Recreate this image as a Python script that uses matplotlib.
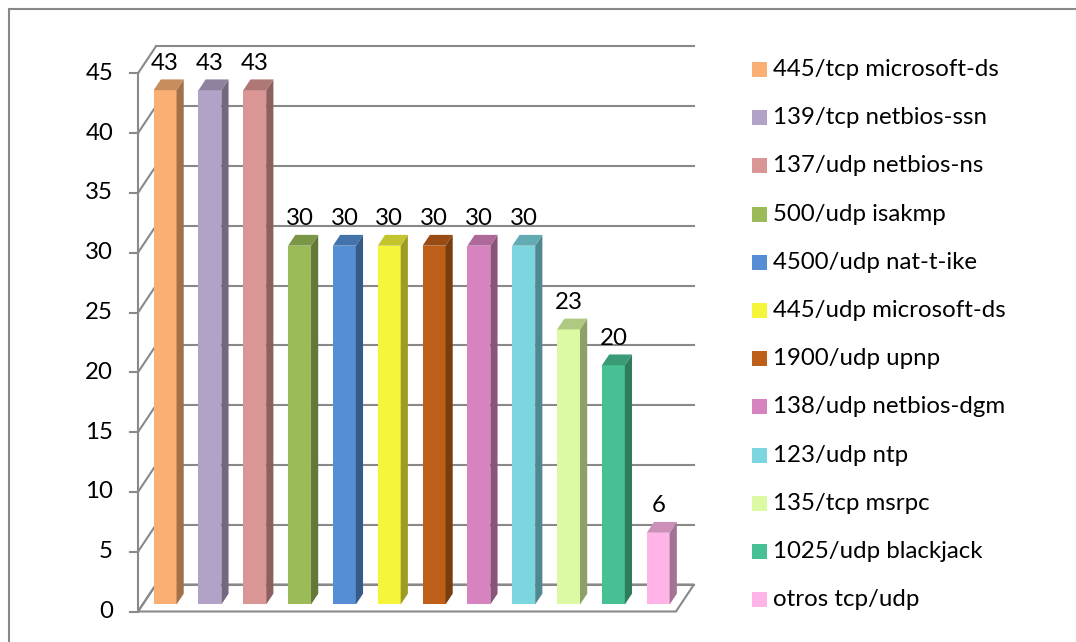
import matplotlib
matplotlib.use('Agg')
import matplotlib.pyplot as plt
from matplotlib.patches import Polygon, Rectangle
from matplotlib.colors import to_rgb
import numpy as np

plt.rcParams['font.family'] = ['Lato', 'DejaVu Sans']

labels = ['445/tcp microsoft-ds', '139/tcp netbios-ssn', '137/udp netbios-ns',
          '500/udp isakmp', '4500/udp nat-t-ike', '445/udp microsoft-ds',
          '1900/udp upnp', '138/udp netbios-dgm', '123/udp ntp',
          '135/tcp msrpc', '1025/udp blackjack', 'otros tcp/udp']
values = [43, 43, 43, 30, 30, 30, 30, 30, 30, 23, 20, 6]
colors = ['#FAB074', '#B3A2C7', '#D99694', '#9BBB59', '#558ED5', '#F5F53A',
          '#BE5F19', '#D783BF', '#7CD6E0', '#DBFAA3', '#47C193', '#FFB3E6']
yticks = list(range(0, 50, 5))

W, H = 1076, 642
# pixel calibration of the front plane
PX_X0, PX_CAT = 138.0, 44.83
PX_Y0, PX_UNIT = 611.5, 11.96
FS = 17.3

fig = plt.figure(figsize=(W / 100, H / 100), dpi=100)
ax = fig.add_axes([0, 0, 1, 1])
ax.set_xlim(-PX_X0 / PX_CAT, (W - PX_X0) / PX_CAT)
ax.set_ylim((PX_Y0 - H) / PX_UNIT, PX_Y0 / PX_UNIT)
ax.axis('off')

n = len(values)
ymax = 45
DX, DY = 18 / PX_CAT, 27 / PX_UNIT      # full depth of the box
f0, fd = 0.26, 0.40                      # bar front depth, bar depth (fractions)
grey = '#898989'
lw = 1.5

# back wall gridlines and side wall lines
for v in yticks:
    ax.plot([DX, n + DX], [v + DY, v + DY], color=grey, lw=lw, zorder=1)
    ax.plot([0, DX], [v, v + DY], color=grey, lw=lw, zorder=1)
    ax.plot([-8 / PX_CAT, 0], [v, v], color=grey, lw=lw, zorder=1)
    ax.text(-25 / PX_CAT, v, str(v), ha='right', va='center', fontsize=FS, color='black')
ax.plot([0, 0], [0, ymax], color=grey, lw=lw, zorder=1)
# floor
ax.add_patch(Polygon([(0, 0), (n, 0), (n + DX, DY), (DX, DY)], closed=True,
                     fill=False, edgecolor=grey, lw=lw, zorder=1))

# bars
width = 0.51
x = np.arange(n) + 0.5 + f0 * DX
base = f0 * DY
bdx, bdy = fd * DX, fd * DY
ax.bar(x, values, width=width, bottom=base, color=colors, zorder=3)
for xi, v, c in zip(x, values, colors):
    rgb = np.array(to_rgb(c))
    xl, xr = xi - width / 2, xi + width / 2
    top = base + v
    ax.add_patch(Polygon([(xr, base), (xr + bdx, base + bdy), (xr + bdx, top + bdy), (xr, top)],
                         closed=True, facecolor=rgb * 0.64, edgecolor='none', zorder=3))
    ax.add_patch(Polygon([(xl, top), (xr, top), (xr + bdx, top + bdy), (xl + bdx, top + bdy)],
                         closed=True, facecolor=rgb * 0.8, edgecolor='none', zorder=3))
    ax.text(xi, top + bdy + 16 / PX_UNIT, str(v), ha='center', va='center',
            fontsize=FS, color='black', zorder=4)

# legend
for k, (lab, c) in enumerate(zip(labels, colors)):
    yc = 1 - (69.5 + 48.2 * k) / H
    fig.patches.append(Rectangle((752 / W, yc - 7.5 / H), 15 / W, 15 / H,
                                 transform=fig.transFigure, facecolor=c, edgecolor='none'))
    fig.text(773 / W, yc, lab, ha='left', va='center', fontsize=FS, color='black')

# chart border
fig.patches.append(Rectangle((8.5 / W, -0.1), 1.2, 1.1 - 8.5 / H, transform=fig.transFigure,
                             fill=False, edgecolor=grey, lw=1.5))

fig.savefig('out.png', dpi=100)
